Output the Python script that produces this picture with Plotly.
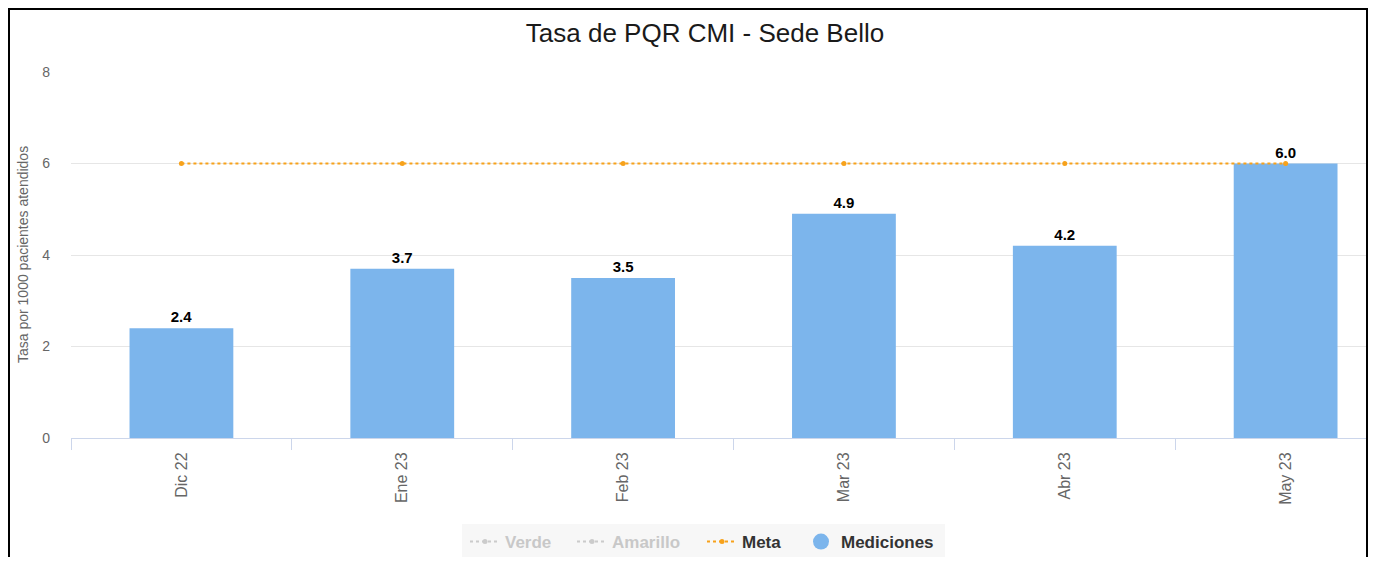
import plotly.graph_objects as go

categorias = ["Dic 22", "Ene 23", "Feb 23", "Mar 23", "Abr 23", "May 23"]
mediciones = [2.4, 3.7, 3.5, 4.9, 4.2, 6.0]
meta = [6, 6, 6, 6, 6, 6]
verde = [None]
amarillo = [None]
y_ticks = [0, 2, 4, 6, 8]

OFF = 8  # page body margin
W, H = 1360, 549
L, R, T, B = 63, 2, 64, 119
pw, ph = W - L - R, H - T - B
FONT = "Liberation Sans, Arial, sans-serif"


def px_x(x):
    return (x - OFF - L) / pw


def px_y(y):
    return (H - B - (y - OFF)) / ph


fig = go.Figure()

fig.add_trace(go.Scatter(
    x=verde, y=verde, name="<b>Verde</b>", mode="lines+markers",
    line=dict(color="#a0a0a0", dash="dot", width=2), marker=dict(size=5),
    visible="legendonly", legend="legend"))
fig.add_trace(go.Scatter(
    x=amarillo, y=amarillo, name="<b>Amarillo</b>", mode="lines+markers",
    line=dict(color="#a0a0a0", dash="dot", width=2), marker=dict(size=5),
    visible="legendonly", legend="legend2"))

fig.add_trace(go.Bar(
    x=categorias, y=mediciones, name="Mediciones",
    marker=dict(color="#7cb5ec", line=dict(width=0)),
    text=[f"{v:.1f}" for v in mediciones], textposition="outside",
    textfont=dict(family=FONT, size=15, color="#000000"),
    texttemplate="<b>%{text}</b>", cliponaxis=False, showlegend=False))

fig.add_trace(go.Scatter(
    x=categorias, y=meta, name="<b>Meta</b>", mode="lines+markers",
    line=dict(color="#f7a21b", dash="dot", width=2),
    marker=dict(color="#f7a21b", size=5), legend="legend3"))

# legend entry for the bar series with a round symbol
fig.add_trace(go.Scatter(
    x=[None], y=[None], name="<b>Mediciones</b>", mode="markers",
    marker=dict(color="#7cb5ec", size=17, symbol="circle"), legend="legend4"))


def leg(xpage, color="#333333"):
    return dict(orientation="h", x=px_x(xpage), xanchor="left",
                y=px_y(542), yanchor="middle", bgcolor="rgba(0,0,0,0)",
                font=dict(size=17, color=color, family=FONT),
                itemclick=False, itemdoubleclick=False,
                itemsizing="trace", itemwidth=30)


fig.update_layout(
    width=W, height=H,
    margin=dict(l=L, r=R, t=T, b=B, autoexpand=False),
    paper_bgcolor="white", plot_bgcolor="white",
    bargap=0.53,
    font=dict(family=FONT, color="#666666"),
    title=dict(text="Tasa de PQR CMI - Sede Bello", x=px_x(705), xref="paper",
               xanchor="center", y=1 - (33 - OFF) / H, yanchor="middle",
               font=dict(size=26, color="#1a1a1a", family=FONT)),
    showlegend=True,
    legend=leg(465, "#9a9a9a"), legend2=leg(572, "#9a9a9a"),
    legend3=leg(702), legend4=leg(801),
    xaxis=dict(type="category", tickangle=-90, tickson="boundaries",
               ticks="outside", ticklen=11, tickcolor="#ccd6eb",
               showline=True, linecolor="#ccd6eb", linewidth=1,
               showgrid=False, tickfont=dict(size=16, color="#666666"),
               ticklabelstandoff=7, range=[-0.5, 5.364]),
    yaxis=dict(range=[0, 8], tickvals=y_ticks, showgrid=True, gridcolor="#e6e6e6",
               zeroline=False, tickfont=dict(size=14, color="#666666"),
               ticklabelstandoff=20, fixedrange=True),
    annotations=[dict(text="Tasa por 1000 pacientes atendidos", textangle=-90,
                      x=px_x(13), y=px_y(255), xref="paper", yref="paper",
                      showarrow=False, font=dict(size=14, color="#666666"))],
    shapes=[
        dict(type="rect", xref="paper", yref="paper",
             x0=px_x(462), x1=px_x(945), y0=px_y(560), y1=px_y(524),
             fillcolor="#f7f7f7", line=dict(width=0), layer="below"),
        dict(type="rect", xref="paper", yref="paper",
             x0=px_x(9), x1=px_x(1367), y0=px_y(640), y1=px_y(9),
             line=dict(color="#000000", width=2), layer="above"),
    ],
)

fig.write_html("out.html")
